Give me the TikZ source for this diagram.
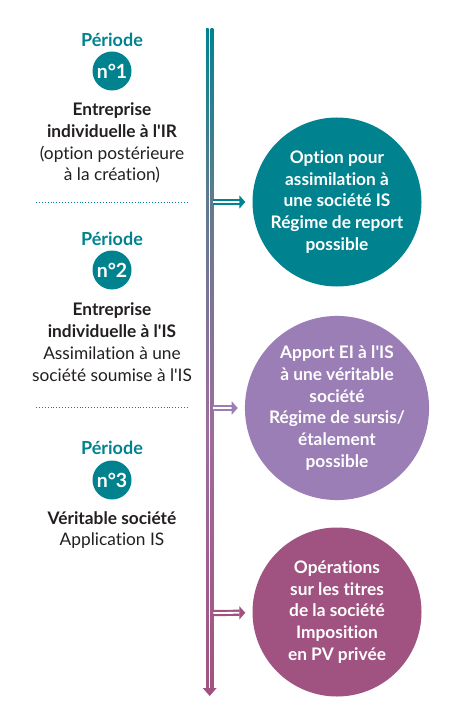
\documentclass[tikz,border=0pt]{standalone}
\usepackage{fontspec}
\setmainfont{Lato}[Ligatures=NoCommon]
\usepackage{tikz}
\usetikzlibrary{arrows.meta}
\usetikzlibrary{positioning}

\definecolor{petrol}{RGB}{0,131,143}
\definecolor{lilac}{RGB}{154,126,181}
\definecolor{plum}{RGB}{160,83,128}
\definecolor{slate}{RGB}{96,122,143}
\definecolor{ink}{RGB}{35,31,32}

\newcommand{\apos}{\textquotesingle}

\pgfdeclareverticalshading{timeline}{100bp}{color(0bp)=(plum); color(25bp)=(plum); color(45bp)=(lilac!60!plum); color(62bp)=(slate); color(75bp)=(petrol); color(100bp)=(petrol)}

\tikzset{
  period/.style={text=petrol, font=\bfseries\fontsize{18}{20}\selectfont},
  badge/.style={circle, fill=petrol, minimum size=39pt, inner sep=0pt, text=white, font=\bfseries\fontsize{19.5}{20}\selectfont},
  desc/.style={text=ink, align=center, font=\fontsize{17.3}{21.8}\selectfont},
  bubble/.style={circle, minimum size=169pt, inner sep=0pt, text=white, align=center, font=\bfseries\fontsize{17.3}{21.8}\selectfont},
  link/.style={draw=#1, line width=2.2pt, double distance=1.8pt, -{Triangle[length=6pt,width=13pt,fill=#1]}, shorten >=7pt},
  sep/.style={petrol, dotted, line width=0.9pt}
}

\begin{document}
\begin{tikzpicture}[x=1pt, y=-1pt]
\useasboundingbox (0,0) rectangle (450,711);

% timeline
\coordinate (top) at (209.7,29);
\coordinate (bot) at (209.7,696);
\shade[shading=timeline] (206,29) rectangle (208.7,689);
\shade[shading=timeline] (210.7,29) rectangle (213.4,689);
\fill[plum] (202.7,688) -- (216.7,688) -- (bot) -- cycle;

% period 1
\node[period] (p1) at (112,40) {Période};
\node[badge] (n1) at (112,71) {n°1};
\node[desc] (d1) at (112,143) {\bfseries Entreprise\\\bfseries individuelle à l\apos IR\\(option postérieure\\à la création)};
\draw[sep] (36,202) -- (188,202);

% period 2
\node[period] (p2) at (112,239) {Période};
\node[badge] (n2) at (112,270) {n°2};
\node[desc] (d2) at (112,342) {\bfseries Entreprise\\\bfseries individuelle à l\apos IS\\Assimilation à une\\société soumise à l\apos IS};
\draw[sep] (36,407) -- (188,407);

% period 3
\node[period] (p3) at (112,448) {Période};
\node[badge] (n3) at (112,480) {n°3};
\node[desc] (d3) at (112,530) {\bfseries Véritable société\\Application IS};

% bubbles
\node[bubble, fill=petrol] (c1) at (337,202) {Option pour\\assimilation à\\une société IS\\Régime de report\\possible};
\node[bubble, fill=lilac] (c2) at (337,408) {Apport EI à l\apos IS\\à une véritable\\société\\Régime de sursis/\\étalement\\possible};
\node[bubble, fill=plum] (c3) at (337,612) {Opérations\\sur les titres\\de la société\\Imposition\\en PV privée};

\coordinate (t1) at (213.4,202);
\coordinate (t2) at (213.4,408);
\coordinate (t3) at (213.4,613);
\draw[link=petrol] (t1) -- (c1);
\draw[link=lilac] (t2) -- (c2);
\draw[link=plum] (t3) -- (c3);
\end{tikzpicture}
\end{document}
